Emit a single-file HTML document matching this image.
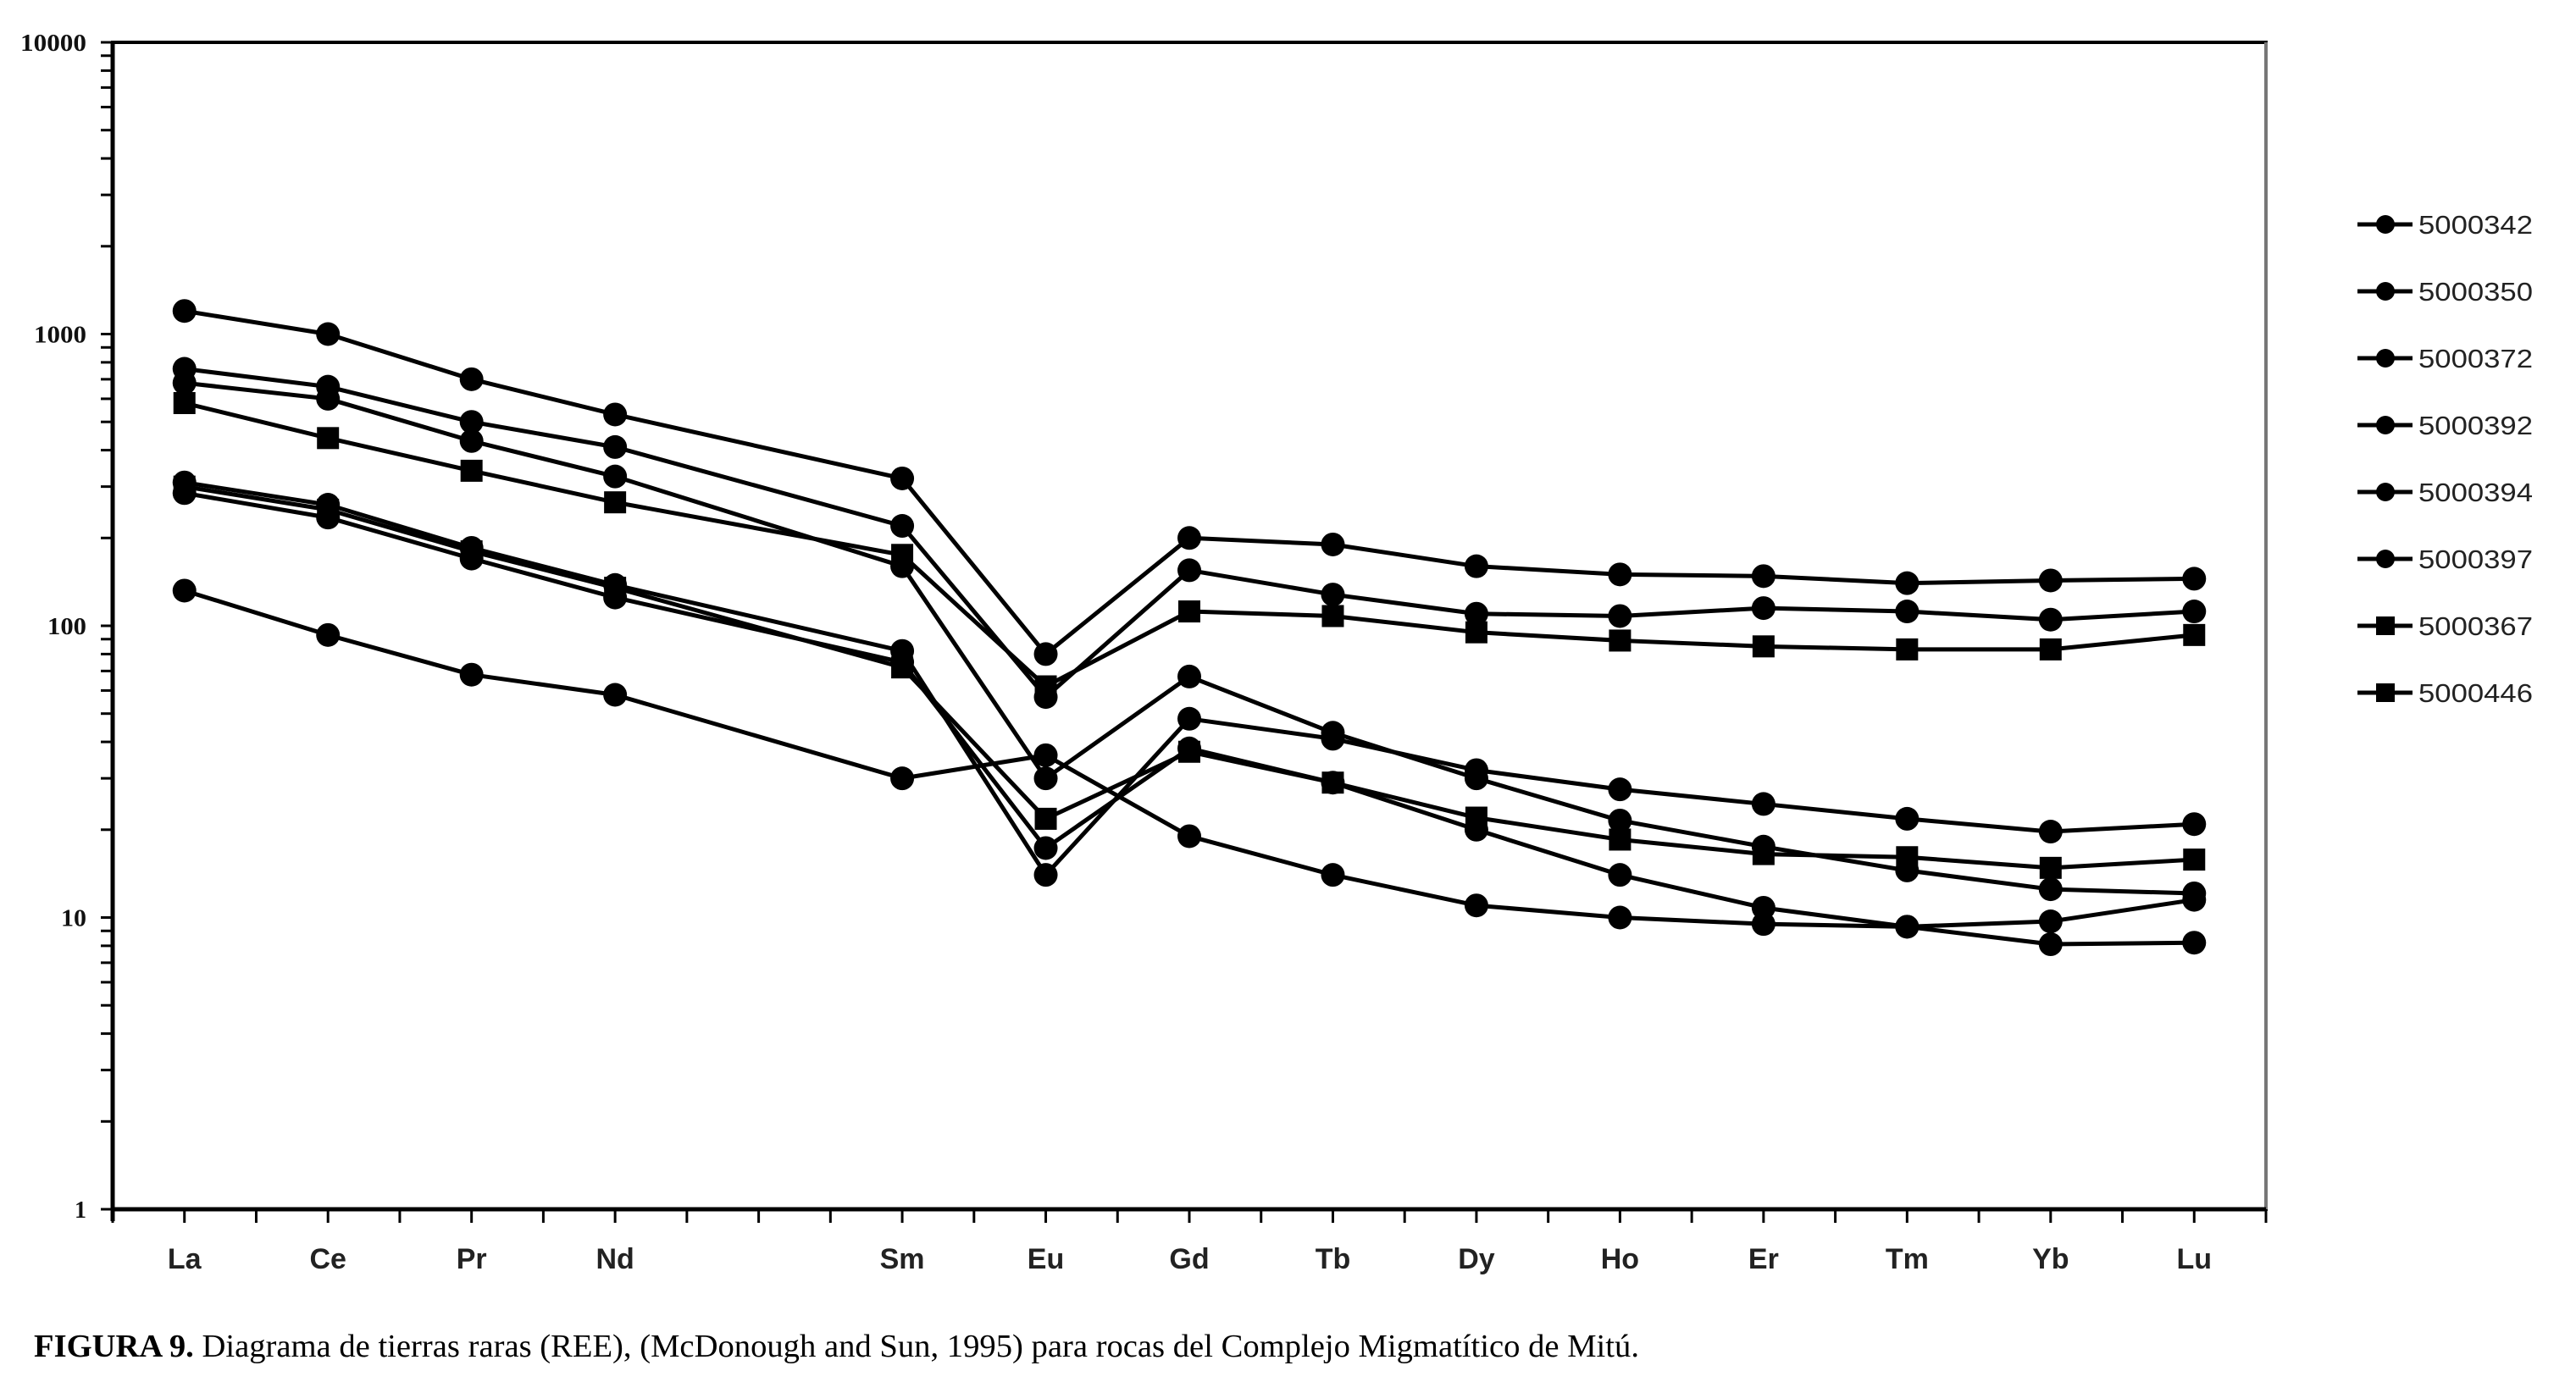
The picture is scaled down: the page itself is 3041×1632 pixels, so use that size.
<!DOCTYPE html>
<html><head><meta charset="utf-8"><style>
html,body{margin:0;padding:0;background:#fff;width:3041px;height:1632px;overflow:hidden}
svg{display:block}
</style></head><body>
<svg id="chart" width="3041" height="1632" viewBox="0 0 3041 1632" xmlns="http://www.w3.org/2000/svg">
<g id="axes"></g>
<g id="series"></g>
<g id="legend"></g>
<text x="40" y="1602" font-family="Liberation Serif, serif" font-size="38" fill="#000" textLength="1895" lengthAdjust="spacingAndGlyphs"><tspan font-weight="bold">FIGURA 9.</tspan> Diagrama de tierras raras (REE), (McDonough and Sun, 1995) para rocas del Complejo Migmatítico de Mitú.</text>
</svg>
<script>
const categories = ["La","Ce","Pr","Nd","Sm","Eu","Gd","Tb","Dy","Ho","Er","Tm","Yb","Lu"];
const categorySlots = [0,1,2,3,5,6,7,8,9,10,11,12,13,14];
const yTickValues = [1,10,100,1000,10000];
const yTickLabels = ["1","10","100","1000","10000"];
const seriesNames = ["5000342","5000350","5000372","5000392","5000394","5000397","5000367","5000446"];
const seriesMarkers = ["circle","circle","circle","circle","circle","circle","square","square"];
const s5000342 = [1200,1000,700,530,320,80,200,190,160,150,148,140,143,145];
const s5000350 = [760,660,500,410,220,57,155,128,110,108,115,112,105,112];
const s5000372 = [680,600,430,325,160,30,67,43,30,21.5,17.5,14.5,12.5,12.1];
const s5000392 = [310,260,185,138,82,14,48,41,32,27.5,24.5,21.8,19.7,20.9];
const s5000394 = [285,235,170,125,75,17.3,38,29,20,14,10.8,9.3,8.1,8.2];
const s5000397 = [132,93,68,58,30,36,19,14,11,10,9.5,9.3,9.7,11.5];
const s5000367 = [580,440,340,265,175,62,112,108,95,89,85,83,83,93];
const s5000446 = [300,250,180,135,72,21.8,37,29,22,18.5,16.5,16.1,14.8,15.8];
const allSeries = [s5000342,s5000350,s5000372,s5000392,s5000394,s5000397,s5000367,s5000446];

const NS="http://www.w3.org/2000/svg";
const X0=133, X1=2675, SLOTS=15, Y1=1428, DEC=344.5;
const slotW=(X1-X0)/SLOTS;
function xPos(slot){return X0+slotW*(slot+0.5);}
function yPos(v){return Y1-Math.log10(v)*DEC;}
function mk(tag,attrs,parent){const e=document.createElementNS(NS,tag);for(const k in attrs)e.setAttribute(k,attrs[k]);parent.appendChild(e);return e;}

const axes=document.getElementById('axes');
let e=mk('rect',{x:X0,y:yPos(10000),width:X1-X0,height:Y1-yPos(10000),fill:'none',stroke:'#000','stroke-width':4},axes);


e=mk('line',{x1:X1,y1:yPos(10000),x2:X1,y2:Y1,stroke:'#777','stroke-width':4},axes);


e=mk('line',{x1:X0,y1:Y1,x2:X1,y2:Y1,stroke:'#000','stroke-width':5},axes);


e=mk('line',{x1:X0,y1:yPos(10000),x2:X0,y2:Y1+14,stroke:'#000','stroke-width':5},axes);


for(let d=0;d<4;d++){for(let m=1;m<=9;m++){const v=Math.pow(10,d)*m;const y=yPos(v);
 e=mk('line',{x1:X0-14,y1:y,x2:X0,y2:y,stroke:'#000','stroke-width':3},axes);
 
 }}
e=mk('line',{x1:X0-14,y1:yPos(10000),x2:X0,y2:yPos(10000),stroke:'#000','stroke-width':3},axes);


yTickValues.forEach((v,i)=>{const lab=yTickLabels[i];
 const t=mk('text',{x:102,y:yPos(v)+10,'text-anchor':'end','font-family':'Liberation Serif, serif','font-weight':'bold','font-size':28,fill:'#111',textLength:16*lab.length-2,lengthAdjust:'spacingAndGlyphs'},axes);
 t.textContent=lab;
 
 });
for(let k=0;k<=SLOTS*2;k++){const x=X0+k*slotW/2;
 e=mk('line',{x1:x,y1:Y1,x2:x,y2:Y1+16,stroke:'#000','stroke-width':3},axes);
 
 }
categories.forEach((c,i)=>{const t=mk('text',{x:xPos(categorySlots[i]),y:1498,'text-anchor':'middle','font-family':'Liberation Sans, sans-serif','font-weight':'bold','font-size':34,fill:'#222'},axes);
 t.textContent=c;
 
 });

const sg=document.getElementById('series');
function marker(parent,type,x,y){let m;
 if(type==='circle'){m=mk('circle',{cx:x,cy:y,r:14,fill:'#000'},parent);}
 else{m=mk('rect',{x:x-13,y:y-13,width:26,height:26,fill:'#000'},parent);}
 return m;}
allSeries.forEach((vals,si)=>{
 const g=mk('g',{},sg);
 
 
 const pts=vals.map((v,i)=>xPos(categorySlots[i])+','+yPos(v)).join(' ');
 const pl=mk('polyline',{points:pts,fill:'none',stroke:'#000','stroke-width':5,'stroke-linejoin':'round'},g);
 
 
 vals.forEach((v,i)=>{const m=marker(g,seriesMarkers[si],xPos(categorySlots[i]),yPos(v));
  
  });
});

const lg=document.getElementById('legend');
seriesNames.forEach((n,i)=>{const y=265+i*79;
 const g=mk('g',{},lg);
 
 
 mk('line',{x1:2783,y1:y,x2:2848,y2:y,stroke:'#000','stroke-width':5},g);
 if(seriesMarkers[i]==='circle')mk('circle',{cx:2816,cy:y,r:11,fill:'#000'},g);
 else mk('rect',{x:2805,y:y-11,width:22,height:22,fill:'#000'},g);
 const t=mk('text',{x:2855,y:y+11,'font-family':'Liberation Sans, sans-serif','font-size':31,fill:'#222',textLength:135,lengthAdjust:'spacingAndGlyphs'},g);
 t.textContent=n;
 
 
});
</script>
</body></html>
